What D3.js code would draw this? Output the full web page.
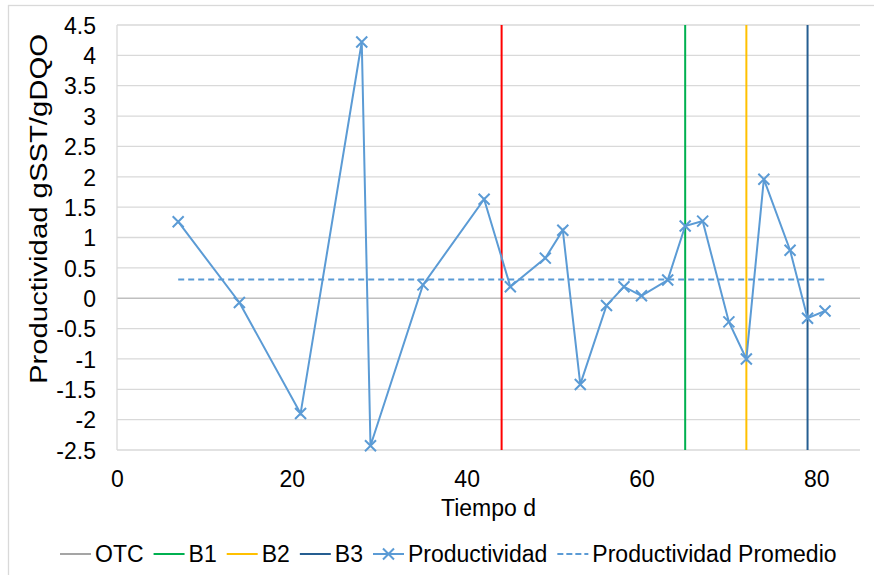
<!DOCTYPE html>
<html>
<head>
<meta charset="utf-8">
<script src="https://cdn.jsdelivr.net/npm/d3@7/dist/d3.min.js"></script>
<style>
  html, body { margin: 0; padding: 0; background: #fff; }
  svg { display: block; font-family: "Liberation Sans", Arial, sans-serif; }
</style>
</head>
<body>
<svg id="chart" width="874" height="575"></svg>
<script>
// Productivity measurements (time in days, gSST/gDQO)
const tiempo = [7, 14, 21, 28, 29, 35, 42, 45, 49, 51, 53, 56, 58, 60, 63, 65, 67, 70, 72, 74, 77, 79, 81];
const productividad = [1.26, -0.07, -1.9, 4.22, -2.43, 0.22, 1.63, 0.19, 0.66, 1.12, -1.42, -0.12, 0.19, 0.04, 0.30, 1.19, 1.27, -0.39, -1.0, 1.96, 0.79, -0.33, -0.21];
const promedio = 0.31;

// Stage change markers (day of change)
const etapas = ["OTC", "B1", "B2", "B3"];
const etapaDia = [44, 65, 72, 79];
const etapaColor = ["#FF0000", "#00B050", "#FFC000", "#255E91"];
const etapaLegendColor = ["#A5A5A5", "#00B050", "#FFC000", "#255E91"];

const xTicks = [0, 20, 40, 60, 80];
const yTicks = [-2.5, -2, -1.5, -1, -0.5, 0, 0.5, 1, 1.5, 2, 2.5, 3, 3.5, 4, 4.5];

const svg = d3.select("#chart");
const blue = "#5B9BD5";
const fontSize = 23;

const x = d3.scaleLinear().domain([0, 85]).range([117, 860]);
const y = d3.scaleLinear().domain([-2.5, 4.5]).range([450, 25]);

// chart area border
svg.append("rect")
  .attr("x", 8.5).attr("y", 5.5).attr("width", 900).attr("height", 600)
  .attr("fill", "none").attr("stroke", "#d9d9d9").attr("stroke-width", 1.3);

// horizontal gridlines
svg.append("g").selectAll("line").data(yTicks).join("line")
  .attr("x1", x(0)).attr("x2", x(85))
  .attr("y1", d => y(d)).attr("y2", d => y(d))
  .attr("stroke", d => d === 0 ? "#bfbfbf" : "#d9d9d9")
  .attr("stroke-width", d => d === 0 ? 1.6 : 1.3);

// vertical axis line
svg.append("line")
  .attr("x1", x(0)).attr("x2", x(0)).attr("y1", y(4.5)).attr("y2", y(-2.5))
  .attr("stroke", "#d9d9d9").attr("stroke-width", 1.3);

// y tick labels
const yAxis = d3.axisLeft(y).tickValues(yTicks).tickSize(0).tickPadding(0)
  .tickFormat(d => String(d));
const gy = svg.append("g").attr("transform", "translate(96,0)").call(yAxis);
gy.select(".domain").remove();
gy.selectAll("text").attr("font-size", fontSize).attr("fill", "#000")
  .attr("font-family", "Liberation Sans, Arial, sans-serif").attr("dy", "0.36em");

// x tick labels
const xAxis = d3.axisBottom(x).tickValues(xTicks).tickSize(0).tickPadding(0)
  .tickFormat(d => String(d));
const gx = svg.append("g").attr("transform", "translate(0,470)").call(xAxis);
gx.select(".domain").remove();
gx.selectAll("text").attr("font-size", fontSize).attr("fill", "#000")
  .attr("font-family", "Liberation Sans, Arial, sans-serif").attr("dy", "0.72em");

// axis titles
svg.append("text")
  .attr("x", x(42.5)).attr("y", 516)
  .attr("text-anchor", "middle").attr("font-size", fontSize)
  .text("Tiempo d");
svg.append("text")
  .attr("transform", "translate(47,209) rotate(-90)")
  .attr("text-anchor", "middle").attr("font-size", fontSize)
  .attr("textLength", 350).attr("lengthAdjust", "spacingAndGlyphs")
  .text("Productividad gSST/gDQO");

// stage change lines
svg.append("g").selectAll("line").data(etapaDia).join("line")
  .attr("x1", d => x(d)).attr("x2", d => x(d))
  .attr("y1", y(4.5)).attr("y2", y(-2.5))
  .attr("stroke", (d, i) => etapaColor[i]).attr("stroke-width", 2);

// average productivity
svg.append("line")
  .attr("x1", x(tiempo[0])).attr("x2", x(tiempo[tiempo.length - 1]))
  .attr("y1", y(promedio)).attr("y2", y(promedio))
  .attr("stroke", blue).attr("stroke-width", 2).attr("stroke-dasharray", "6,4");

// productivity series
const pts = tiempo.map((t, i) => [t, productividad[i]]);
svg.append("path")
  .attr("d", d3.line().x(d => x(d[0])).y(d => y(d[1]))(pts))
  .attr("fill", "none").attr("stroke", blue).attr("stroke-width", 2);

const m = 5.5;
const cross = (cx, cy) => `M${cx - m},${cy - m}L${cx + m},${cy + m}M${cx - m},${cy + m}L${cx + m},${cy - m}`;
svg.append("g").selectAll("path").data(pts).join("path")
  .attr("d", d => cross(x(d[0]), y(d[1])))
  .attr("stroke", blue).attr("stroke-width", 2).attr("fill", "none");

// legend
const legend = [
  ...etapas.map((e, i) => ({ label: e, color: etapaLegendColor[i], type: "line" })),
  { label: "Productividad", color: blue, type: "marker" },
  { label: "Productividad Promedio", color: blue, type: "dash" }
];
const lg = svg.append("g");
let lx = 60;
const ly = 554;
legend.forEach(item => {
  const g = lg.append("g");
  g.append("line").attr("x1", lx).attr("x2", lx + 31).attr("y1", ly).attr("y2", ly)
    .attr("stroke", item.color).attr("stroke-width", 2)
    .attr("stroke-dasharray", item.type === "dash" ? "6,3" : null);
  if (item.type === "marker") {
    g.append("path").attr("d", cross(lx + 15.5, ly)).attr("stroke", item.color)
      .attr("stroke-width", 2).attr("fill", "none");
  }
  const t = g.append("text").attr("x", lx + 35).attr("y", 562)
    .attr("font-size", fontSize).text(item.label);
  lx += 35 + t.node().getComputedTextLength() + 10;
});
</script>
</body>
</html>
